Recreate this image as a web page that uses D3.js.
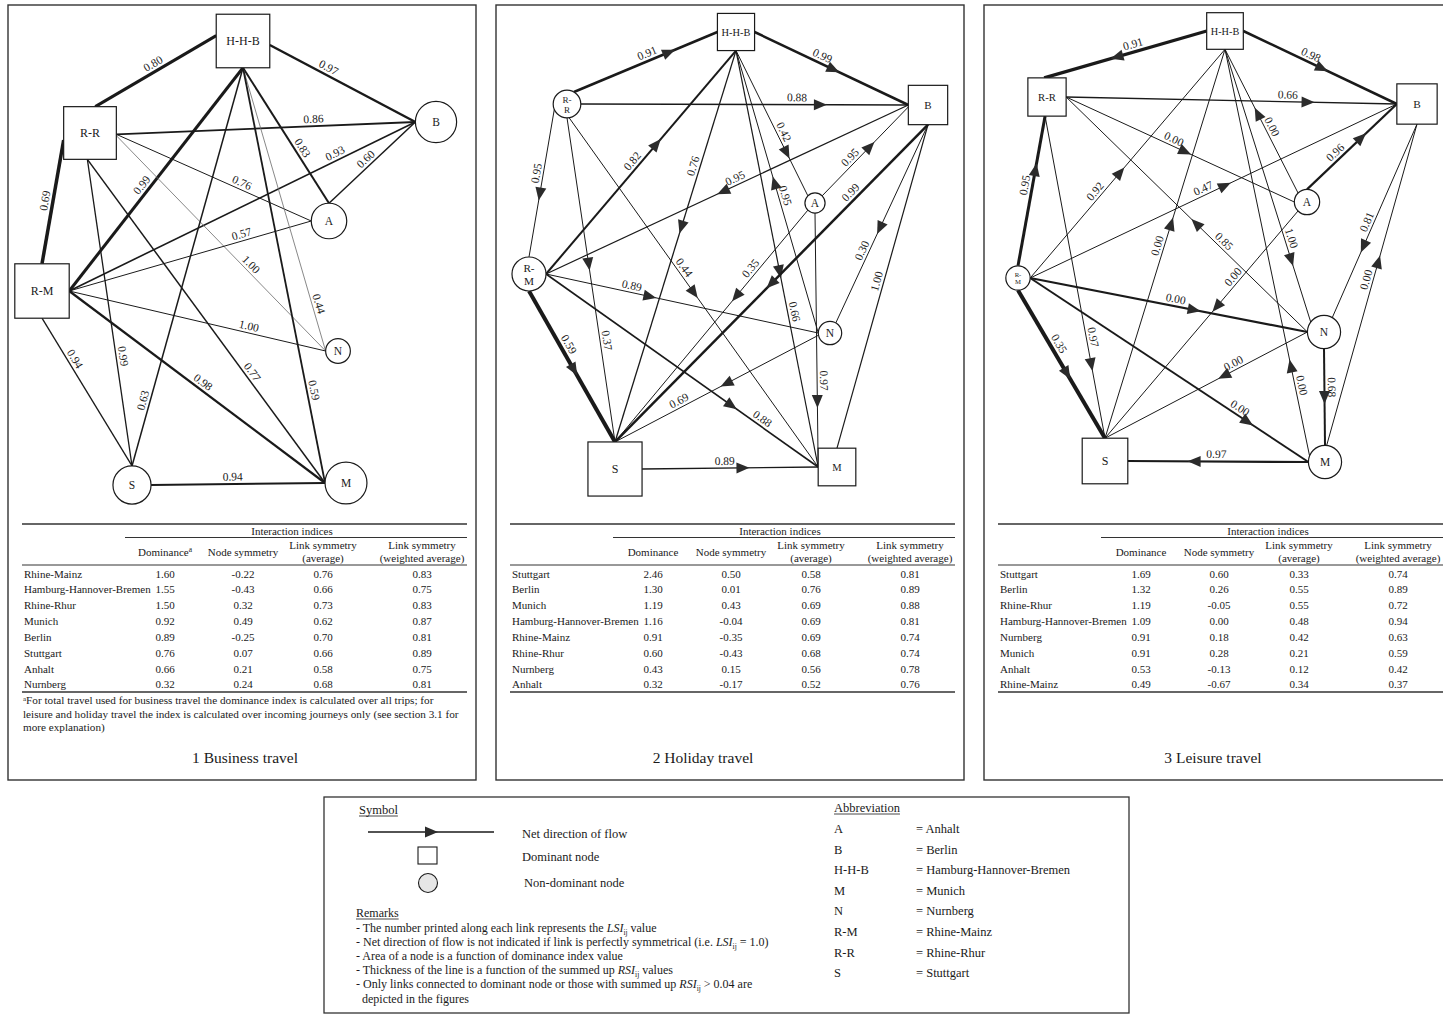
<!DOCTYPE html>
<html>
<head>
<meta charset="utf-8">
<script src="https://cdn.jsdelivr.net/npm/d3@7"></script>
<style>
  body { margin: 0; background: #fff; }
  svg { display: block; font-family: "Liberation Serif", "Times New Roman", serif; }
</style>
</head>
<body>
<svg id="chart" width="1443" height="1015"></svg>
<script>
// ---------------- data ----------------
const panelTitles = ["1 Business travel", "2 Holiday travel", "3 Leisure travel"];
const indexGroupTitle = "Interaction indices";
const indexHeaders = [["Dominance"], ["Node symmetry"], ["Link symmetry", "(average)"], ["Link symmetry", "(weighted average)"]];

const regionCodes = ["A", "B", "H-H-B", "M", "N", "R-M", "R-R", "S"];
const regionNames = ["Anhalt", "Berlin", "Hamburg-Hannover-Bremen", "Munich", "Nurnberg", "Rhine-Mainz", "Rhine-Rhur", "Stuttgart"];

// [region, dominance, node symmetry, link symmetry (average), link symmetry (weighted average)]
const businessIndices = [
  ["Rhine-Mainz", 1.60, -0.22, 0.76, 0.83],
  ["Hamburg-Hannover-Bremen", 1.55, -0.43, 0.66, 0.75],
  ["Rhine-Rhur", 1.50, 0.32, 0.73, 0.83],
  ["Munich", 0.92, 0.49, 0.62, 0.87],
  ["Berlin", 0.89, -0.25, 0.70, 0.81],
  ["Stuttgart", 0.76, 0.07, 0.66, 0.89],
  ["Anhalt", 0.66, 0.21, 0.58, 0.75],
  ["Nurnberg", 0.32, 0.24, 0.68, 0.81]
];
const holidayIndices = [
  ["Stuttgart", 2.46, 0.50, 0.58, 0.81],
  ["Berlin", 1.30, 0.01, 0.76, 0.89],
  ["Munich", 1.19, 0.43, 0.69, 0.88],
  ["Hamburg-Hannover-Bremen", 1.16, -0.04, 0.69, 0.81],
  ["Rhine-Mainz", 0.91, -0.35, 0.69, 0.74],
  ["Rhine-Rhur", 0.60, -0.43, 0.68, 0.74],
  ["Nurnberg", 0.43, 0.15, 0.56, 0.78],
  ["Anhalt", 0.32, -0.17, 0.52, 0.76]
];
const leisureIndices = [
  ["Stuttgart", 1.69, 0.60, 0.33, 0.74],
  ["Berlin", 1.32, 0.26, 0.55, 0.89],
  ["Rhine-Rhur", 1.19, -0.05, 0.55, 0.72],
  ["Hamburg-Hannover-Bremen", 1.09, 0.00, 0.48, 0.94],
  ["Nurnberg", 0.91, 0.18, 0.42, 0.63],
  ["Munich", 0.91, 0.28, 0.21, 0.59],
  ["Anhalt", 0.53, -0.13, 0.12, 0.42],
  ["Rhine-Mainz", 0.49, -0.67, 0.34, 0.37]
];

// links: [from, to, LSI, net direction shown (1) or not (0)]
const businessLinks = [
  ["R-R", "H-H-B", 0.80, 0], ["H-H-B", "B", 0.97, 0], ["R-R", "B", 0.86, 0], ["R-M", "R-R", 0.69, 0],
  ["H-H-B", "R-M", 0.99, 0], ["H-H-B", "A", 0.83, 0], ["R-M", "B", 0.93, 0], ["A", "B", 0.60, 0],
  ["R-R", "A", 0.76, 0], ["R-R", "N", 1.00, 0], ["R-M", "A", 0.57, 0], ["H-H-B", "N", 0.44, 0],
  ["R-M", "N", 1.00, 0], ["R-M", "S", 0.94, 0], ["R-R", "S", 0.99, 0], ["H-H-B", "S", 0.63, 0],
  ["R-M", "M", 0.98, 0], ["R-R", "M", 0.77, 0], ["H-H-B", "M", 0.59, 0], ["S", "M", 0.94, 0]
];
const holidayLinks = [
  ["R-R", "H-H-B", 0.91, 1], ["H-H-B", "B", 0.99, 1], ["R-R", "B", 0.88, 1], ["R-R", "R-M", 0.95, 1],
  ["R-M", "H-H-B", 0.82, 1], ["H-H-B", "S", 0.76, 1], ["H-H-B", "A", 0.42, 1], ["N", "H-H-B", 0.95, 1],
  ["H-H-B", "M", 0.66, 1], ["B", "R-M", 0.95, 1], ["A", "B", 0.95, 1], ["B", "N", 0.30, 1],
  ["B", "S", 0.99, 1], ["B", "M", 1.00, 0], ["R-R", "S", 0.37, 1], ["R-R", "M", 0.44, 1],
  ["A", "S", 0.35, 1], ["A", "M", 0.97, 1], ["R-M", "N", 0.89, 1], ["N", "S", 0.69, 1],
  ["R-M", "S", 0.59, 1], ["R-M", "M", 0.88, 1], ["S", "M", 0.89, 1]
];
const leisureLinks = [
  ["H-H-B", "R-R", 0.91, 1], ["H-H-B", "B", 0.98, 1], ["R-R", "B", 0.66, 1], ["R-R", "A", 0.00, 1],
  ["A", "H-H-B", 0.00, 1], ["A", "B", 0.96, 1], ["R-M", "R-R", 0.95, 1], ["R-M", "H-H-B", 0.92, 1],
  ["R-M", "B", 0.47, 1], ["S", "H-H-B", 0.00, 1], ["N", "R-R", 0.85, 1], ["H-H-B", "N", 1.00, 1],
  ["B", "N", 0.81, 1], ["M", "B", 0.00, 1], ["A", "S", 0.00, 1], ["R-M", "N", 0.00, 1],
  ["R-R", "S", 0.97, 1], ["R-M", "S", 0.35, 1], ["N", "S", 0.00, 1], ["M", "H-H-B", 0.00, 1],
  ["N", "M", 0.68, 1], ["R-M", "M", 0.00, 1], ["M", "S", 0.97, 1]
];

const footnoteLines = [
  "For total travel used for business travel the dominance index is calculated over all trips; for",
  "leisure and holiday travel the index is calculated over incoming journeys only (see section 3.1 for",
  "more explanation)"
];
const legendSymbols = ["Net direction of flow", "Dominant node", "Non-dominant node"];
// remark lines; segment style: "" plain, "i" italic, "s" subscript
const remarkLines = [
  [["- The number printed along each link represents the ", ""], ["LSI", "i"], ["ij", "s"], [" value", ""]],
  [["- Net direction of flow is not indicated if link is perfectly symmetrical (i.e. ", ""], ["LSI", "i"], ["ij", "s"], [" = 1.0)", ""]],
  [["- Area of a node is a function of dominance index value", ""]],
  [["- Thickness of the line is a function of the summed up ", ""], ["RSI", "i"], ["ij", "s"], [" values", ""]],
  [["- Only links connected to dominant node or those with summed up ", ""], ["RSI", "i"], ["ij", "s"], [" > 0.04 are", ""]],
  [["  depicted in the figures", ""]]
];

// ---------------- layout ----------------
const layout = {
  panelX: [8, 496, 984], panelY: 5, panelW: 468, panelH: 775,
  // area per unit dominance: [square, circle]
  sizeK: [[1850, 1500], [1190, 1000], [1230, 950]],
  // node centres relative to panel left edge
  nodePos: [
    { "H-H-B": [235, 41], "R-R": [82, 133], "R-M": [34, 291], B: [428, 122], A: [321, 221], N: [330, 351], S: [124, 485], M: [338, 483] },
    { "H-H-B": [240, 32], B: [432, 105], "R-R": [71, 104], "R-M": [33, 274], A: [319, 203], N: [334, 333], S: [119, 469], M: [341, 467] },
    { "H-H-B": [241, 31], "R-R": [63, 97], B: [433, 104], "R-M": [34, 278], A: [323, 202], N: [340, 332], M: [341, 462], S: [121, 461] }
  ],
  // per link: [source anchor, target anchor, stroke width, label position, arrow position]
  linkGeom: [
    [
      [[0.2, -1], [-1, -0.2], 3, 0.51], [[1, 0.15], [-1, 0], 2.5, 0.38], [[1, 0.05], [-1, 0], 1.8, 0.66],
      [[0, -1], [-1, 0.27], 3.5, 0.5], [[0, 1], [1, 0], 3, 0.547], [[0, 1], [0, -1], 2, 0.62],
      [[1, 0], [-1, 0], 1.6, 0.777], [[0, -1], [-1, 0], 1.5, 0.48], [[1, 0.05], [-1, 0], 1, 0.63],
      [[1, 0.1], [-1, 0], 0.8, 0.62], [[1, 0], [-1, 0], 1, 0.72], [[0, 1], [-1, 0], 0.8, 0.84],
      [[1, 0], [-1, 0], 1, 0.695], [[0, 1], [0, -1], 1.3, 0.3], [[-0.1, 1], [0, -1], 1.3, 0.645],
      [[0, 1], [0, -1], 1.5, 0.84], [[1, 0], [-1, 0], 2.2, 0.506], [[-0.1, 1], [-1, 0], 1.5, 0.67],
      [[0, 1], [-1, 0], 1.8, 0.78], [[1, 0], [-1, 0], 2, 0.47]
    ],
    [
      [[0.5, -0.87], [-1, 0], 2.5, 0.53, 0.66], [[1, 0], [-1, 0], 2.5, 0.42, 0.51], [[1, 0], [-1, 0], 1.6, 0.66, 0.73],
      [[-0.92, 0.4], [0, -1], 1, 0.44, 0.57], [[1, 0], [0, 1], 2, 0.484, 0.58], [[0, 1], [0, -1], 1.3, 0.30, 0.45],
      [[0, 1], [-0.7, -0.7], 1, 0.58, 0.70], [[-1, 0], [0, 1], 1, 0.48, 0.53], [[0, 1], [-1, 0], 1.2, 0.63, 0.53],
      [[-1, 0], [1, 0], 1.2, 0.47, 0.51], [[0.7, -0.7], [-1, 0.1], 1, 0.38, 0.55], [[0, 1], [0.5, -0.87], 1, 0.65, 0.52],
      [[0, 1], [0, -1], 2.5, 0.23, 0.50], [[0, 1], [0, -1], 1.2, 0.49, null], [[0, 1], [0, -1], 1, 0.69, 0.45],
      [[0.15, 0.99], [-1, 0], 1, 0.44, 0.50], [[-0.7, 0.7], [0, -1], 1, 0.27, 0.37], [[0, 1], [-1, 0], 1, 0.66, 0.74],
      [[1, 0], [-1, 0], 1, 0.31, 0.38], [[-1, 0.2], [0, -1], 1, 0.67, 0.45], [[0, 1], [0, -1], 4, 0.38, 0.52],
      [[1, 0], [-1, 0], 1.6, 0.78, 0.68], [[1, 0], [-1, 0], 1.3, 0.47, 0.57]
    ],
    [
      [[-1, 0], [-0.15, -1], 3.2, 0.44, 0.55], [[1, 0], [-1, 0], 2.5, 0.42, 0.51], [[1, 0], [-1, 0], 1.3, 0.67, 0.73],
      [[1, 0], [-1, 0], 1, 0.46, 0.52], [[-0.7, -0.7], [0, 1], 1, 0.44, 0.55], [[0, -1], [-1, 0], 2.2, 0.37, 0.6],
      [[0, -1], [-0.1, 1], 3, 0.53, 0.64], [[1, 0], [0, 1], 1, 0.36, 0.46], [[1, 0], [-1, 0], 1, 0.48, 0.53],
      [[0, -1], [0, 1], 1, 0.49, 0.55], [[-1, 0], [1, 0], 1, 0.365, 0.46], [[0, 1], [-0.8, -0.6], 1, 0.70, 0.77],
      [[0, 1], [0.5, -0.87], 1, 0.52, 0.63], [[0.1, -1], [0, 1], 1, 0.51, 0.57], [[-0.7, 0.7], [0, -1], 1, 0.31, 0.42],
      [[1, 0], [-1, 0], 2.2, 0.52, 0.59], [[-0.1, 1], [0, -1], 1, 0.69, 0.77], [[0, 1], [0, -1], 4, 0.39, 0.56],
      [[-1, 0], [0, -1], 1, 0.35, 0.41], [[-0.93, -0.37], [0, 1], 1, 0.17, 0.22], [[0, 1], [0, -1], 2, 0.4, 0.5],
      [[1, 0], [-1, 0], 2, 0.74, 0.78], [[-1, 0], [1, 0], 2.2, 0.51, 0.63]
    ]
  ],
  table: { dx: 14, width: 445, cols: [143, 221, 301, 400], subRuleDx: 103,
           top: 524, sub: 537.5, head: 565, bottom: 692, row0: 577.5, rowStep: 15.85 },
  titleY: 762.5
};

const panels = [
  { title: panelTitles[0], indices: businessIndices, links: businessLinks, footnote: true },
  { title: panelTitles[1], indices: holidayIndices, links: holidayLinks, footnote: false },
  { title: panelTitles[2], indices: leisureIndices, links: leisureLinks, footnote: false }
];

const fmt = d3.formatLocale({ decimal: ".", thousands: ",", grouping: [3], currency: ["", ""], minus: "-" }).format(".2f");
const codeOf = new Map(regionNames.map((n, i) => [n, regionCodes[i]]));
const ink = "#1a1a1a";
const arrowPath = "M7,0L-6,-5.5L-6,5.5Z";

const svg = d3.select("#chart");

panels.forEach((p, pi) => {
  const x0 = layout.panelX[pi];
  const g = svg.append("g");

  g.append("rect")
    .attr("x", x0).attr("y", layout.panelY)
    .attr("width", layout.panelW).attr("height", layout.panelH)
    .attr("fill", "none").attr("stroke", "#333").attr("stroke-width", 1.4);

  // node size scales: area proportional to dominance
  const [kSq, kC] = layout.sizeK[pi];
  const side = d3.scaleSqrt().domain([0, 1]).range([0, Math.sqrt(kSq)]);
  const rad = d3.scaleSqrt().domain([0, 1]).range([0, Math.sqrt(kC / Math.PI)]);

  const nodes = new Map();
  p.indices.forEach(row => {
    const code = codeOf.get(row[0]);
    const pos = layout.nodePos[pi][code];
    const dominant = row[1] > 1;
    const half = dominant ? side(row[1]) / 2 : rad(row[1]);
    nodes.set(code, { code, x: x0 + pos[0], y: pos[1], dominant, half });
  });
  const anchor = (n, u) => [n.x + u[0] * n.half, n.y + u[1] * n.half];

  // links
  const linkG = g.append("g");
  p.links.forEach((l, li) => {
    const geo = layout.linkGeom[pi][li];
    const a = anchor(nodes.get(l[0]), geo[0]);
    const b = anchor(nodes.get(l[1]), geo[1]);
    const w = geo[2];
    linkG.append("line")
      .attr("x1", a[0]).attr("y1", a[1]).attr("x2", b[0]).attr("y2", b[1])
      .attr("stroke", w < 1 ? "#6a6a6a" : ink).attr("stroke-width", w);

    const ang = Math.atan2(b[1] - a[1], b[0] - a[0]) * 180 / Math.PI;
    let ta = ang;
    if (ta > 90.5) ta -= 180;
    if (ta < -90.5) ta += 180;
    const lt = geo[3];
    const lp = [a[0] + (b[0] - a[0]) * lt, a[1] + (b[1] - a[1]) * lt];
    linkG.append("text")
      .attr("transform", `translate(${lp[0]},${lp[1]}) rotate(${ta})`)
      .attr("y", -(w / 2 + 2.5))
      .attr("text-anchor", "middle")
      .attr("font-size", 11.5).attr("fill", "#222")
      .text(fmt(l[2]));

    if (l[3] && geo[4] != null) {
      const at = geo[4];
      const ap = [a[0] + (b[0] - a[0]) * at, a[1] + (b[1] - a[1]) * at];
      linkG.append("path")
        .attr("d", arrowPath)
        .attr("transform", `translate(${ap[0]},${ap[1]}) rotate(${ang})`)
        .attr("fill", "#2b2b2b");
    }
  });

  // nodes
  const nodeG = g.append("g");
  nodes.forEach(n => {
    if (n.dominant) {
      nodeG.append("rect")
        .attr("x", n.x - n.half).attr("y", n.y - n.half)
        .attr("width", n.half * 2).attr("height", n.half * 2)
        .attr("fill", "#fff").attr("stroke", ink).attr("stroke-width", 1.2);
      nodeG.append("text")
        .attr("x", n.x).attr("y", n.y + 4)
        .attr("text-anchor", "middle")
        .attr("font-size", Math.min(12, n.half * 2 * 0.28)).attr("fill", ink)
        .text(n.code);
    } else {
      nodeG.append("circle")
        .attr("cx", n.x).attr("cy", n.y).attr("r", n.half)
        .attr("fill", "#fff").attr("stroke", ink).attr("stroke-width", 1.2);
      if (n.code.includes("-") && n.half < 18) {
        const fs = n.half * (n.half < 13 ? 0.55 : 0.66);
        const parts = [n.code.split("-")[0] + "-", n.code.split("-")[1]];
        parts.forEach((t, k) => {
          nodeG.append("text")
            .attr("x", n.x).attr("y", n.y + (k === 0 ? -fs * 0.15 : fs * 0.95))
            .attr("text-anchor", "middle").attr("font-size", fs).attr("fill", ink)
            .text(t);
        });
      } else {
        nodeG.append("text")
          .attr("x", n.x).attr("y", n.y + 4)
          .attr("text-anchor", "middle").attr("font-size", 11.5).attr("fill", ink)
          .text(n.code);
      }
    }
  });

  // indices table
  const T = layout.table;
  const tx = x0 + T.dx;
  const tg = g.append("g").attr("fill", ink).attr("font-size", 11);
  const rule = (x1, x2, y, sw) => tg.append("line").attr("x1", x1).attr("x2", x2)
    .attr("y1", y).attr("y2", y).attr("stroke", "#333").attr("stroke-width", sw);
  rule(tx, tx + T.width, T.top, 1.3);
  rule(tx + T.subRuleDx, tx + T.width, T.sub, 1);
  rule(tx, tx + T.width, T.head, 1);
  rule(tx, tx + T.width, T.bottom, 1.3);

  tg.append("text").attr("x", tx + (T.subRuleDx + T.width) / 2 - 4).attr("y", T.top + 11)
    .attr("text-anchor", "middle").text(indexGroupTitle);

  indexHeaders.forEach((h, ci) => {
    const cx = tx + T.cols[ci];
    if (h.length === 1) {
      const t = tg.append("text").attr("x", cx).attr("y", 555.5).attr("text-anchor", "middle");
      t.append("tspan").text(h[0]);
      if (ci === 0 && p.footnote) {
        t.append("tspan").attr("font-size", 7.5).attr("dy", -4).text("a");
      }
    } else {
      h.forEach((line, k) => {
        tg.append("text").attr("x", cx).attr("y", 548.5 + k * 13)
          .attr("text-anchor", "middle").text(line);
      });
    }
  });

  p.indices.forEach((row, ri) => {
    const y = T.row0 + ri * T.rowStep;
    tg.append("text").attr("x", tx + 2).attr("y", y).text(row[0]);
    row.slice(1).forEach((v, ci) => {
      tg.append("text").attr("x", tx + T.cols[ci]).attr("y", y)
        .attr("text-anchor", "middle").text(fmt(v));
    });
  });

  if (p.footnote) {
    footnoteLines.forEach((line, k) => {
      const t = tg.append("text").attr("x", tx + 1).attr("y", 704 + k * 13.5).attr("font-size", 11.2);
      if (k === 0) t.append("tspan").attr("font-size", 7).attr("dy", -3).text("a");
      t.append("tspan").attr("dy", k === 0 ? 3 : 0).text(line);
    });
  }

  g.append("text")
    .attr("x", x0 + [237, 207, 229][pi]).attr("y", layout.titleY)
    .attr("text-anchor", "middle").attr("font-size", 15.5).attr("fill", ink)
    .text(p.title);
});

// ---------------- legend ----------------
const lg = svg.append("g").attr("fill", ink);
lg.append("rect").attr("x", 324).attr("y", 797).attr("width", 805).attr("height", 216)
  .attr("fill", "none").attr("stroke", "#333").attr("stroke-width", 1.3);

function underlined(x, y, txt, fs) {
  const t = lg.append("text").attr("x", x).attr("y", y).attr("font-size", fs).text(txt);
  const len = t.node().getComputedTextLength();
  lg.append("line").attr("x1", x).attr("x2", x + len).attr("y1", y + 2).attr("y2", y + 2)
    .attr("stroke", ink).attr("stroke-width", 0.8);
}

underlined(359, 814, "Symbol", 12.5);
lg.append("line").attr("x1", 368).attr("x2", 494).attr("y1", 832).attr("y2", 832)
  .attr("stroke", ink).attr("stroke-width", 1.5);
lg.append("path").attr("d", arrowPath).attr("transform", "translate(431,832)").attr("fill", "#2b2b2b");
lg.append("rect").attr("x", 418).attr("y", 847).attr("width", 19).attr("height", 17)
  .attr("fill", "#fff").attr("stroke", ink).attr("stroke-width", 1.1);
lg.append("circle").attr("cx", 428).attr("cy", 883).attr("r", 9.5)
  .attr("fill", "#e6e6e6").attr("stroke", ink).attr("stroke-width", 1.1);
[[522, 838], [522, 861], [524, 887]].forEach((pos, i) => {
  lg.append("text").attr("x", pos[0]).attr("y", pos[1]).attr("font-size", 12.5).text(legendSymbols[i]);
});

underlined(356, 917, "Remarks", 12);
remarkLines.forEach((segs, i) => {
  const t = lg.append("text").attr("x", 356)
    .attr("y", 932 + i * 14 + (i === remarkLines.length - 1 ? 1 : 0))
    .attr("font-size", 12).attr("xml:space", "preserve");
  let sub = false;
  segs.forEach(([txt, st]) => {
    const ts = t.append("tspan").text(txt);
    if (st === "i") ts.attr("font-style", "italic");
    if (st === "s") { ts.attr("font-size", 7.5).attr("dy", 2.5); sub = true; }
    else if (sub) { ts.attr("dy", -2.5); sub = false; }
  });
});

underlined(834, 812, "Abbreviation", 12.5);
regionCodes.forEach((c, i) => {
  const y = 833 + i * 20.6;
  lg.append("text").attr("x", 834).attr("y", y).attr("font-size", 12.5).text(c);
  lg.append("text").attr("x", 916).attr("y", y).attr("font-size", 12.5).text("= " + regionNames[i]);
});
</script>
</body>
</html>
